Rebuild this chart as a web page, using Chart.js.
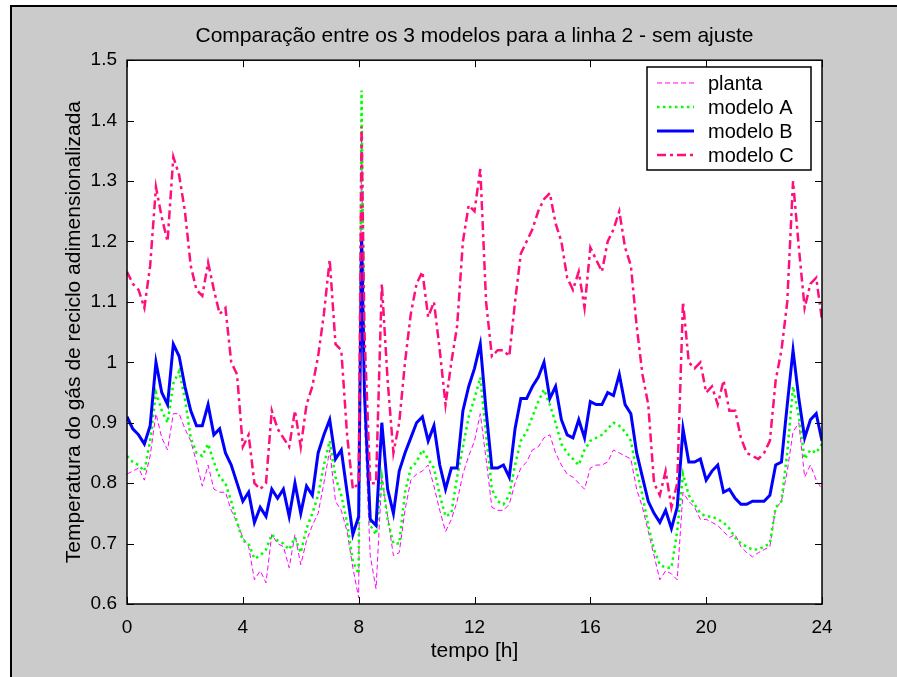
<!DOCTYPE html>
<html>
<head>
<meta charset="utf-8">
<script src="https://cdn.jsdelivr.net/npm/chart.js@4.4.1/dist/chart.umd.min.js"></script>
<style>
  html, body { margin: 0; padding: 0; background: #fff; }
  #fig { position: absolute; left: 10px; top: 5px; width: 887px; height: 672px; background: #cbcbcb;
         border-top: 2px solid #000; border-left: 2px solid #000; box-sizing: border-box; }
  #plot { position: absolute; left: 0; top: 0; width: 897px; height: 677px; }
</style>
</head>
<body>
<div id="fig"></div>
<canvas id="plot" width="897" height="677"></canvas>
<script>
// tempo [h]
var tempo = [
  0, 0.2, 0.4, 0.6, 0.8, 1.0, 1.2, 1.4, 1.6, 1.8,
  2.0, 2.2, 2.4, 2.6, 2.8, 3.0, 3.2, 3.4, 3.6, 3.8,
  4.0, 4.2, 4.4, 4.6, 4.8, 5.0, 5.2, 5.4, 5.6, 5.8,
  6.0, 6.2, 6.4, 6.6, 6.8, 7.0, 7.2, 7.4, 7.6, 7.8,
  8.0, 8.1, 8.2, 8.4, 8.6, 8.8, 9.0, 9.2, 9.4, 9.6, 9.8,
  10.0, 10.2, 10.4, 10.6, 10.8, 11.0, 11.2, 11.4, 11.6, 11.8,
  12.0, 12.2, 12.4, 12.6, 12.8, 13.0, 13.2, 13.4, 13.6, 13.8,
  14.0, 14.2, 14.4, 14.6, 14.8, 15.0, 15.2, 15.4, 15.6, 15.8,
  16.0, 16.2, 16.4, 16.6, 16.8, 17.0, 17.2, 17.4, 17.6, 17.8,
  18.0, 18.2, 18.4, 18.6, 18.8, 19.0, 19.2, 19.4, 19.6, 19.8,
  20.0, 20.2, 20.4, 20.6, 20.8, 21.0, 21.2, 21.4, 21.6, 21.8,
  22.0, 22.2, 22.4, 22.6, 22.8, 23.0, 23.2, 23.4, 23.6, 23.8,
  24.0
];

var planta = [
  0.815, 0.82, 0.825, 0.805, 0.845, 0.915, 0.875, 0.855, 0.915, 0.915,
  0.89, 0.87, 0.835, 0.795, 0.83, 0.79, 0.785, 0.785, 0.755, 0.735,
  0.71, 0.695, 0.64, 0.655, 0.635, 0.715, 0.70, 0.695, 0.66, 0.715,
  0.665, 0.705, 0.73, 0.75, 0.80, 0.855, 0.77, 0.755, 0.72, 0.66,
  0.61, 1.38, 0.90, 0.68, 0.625, 0.81, 0.745, 0.68, 0.685, 0.755, 0.805,
  0.815, 0.82, 0.83, 0.795, 0.755, 0.72, 0.74, 0.77, 0.815, 0.845,
  0.87, 0.915, 0.84, 0.76, 0.755, 0.755, 0.765, 0.80, 0.825, 0.835,
  0.855, 0.86, 0.875, 0.88, 0.85, 0.83, 0.815, 0.81, 0.80, 0.79,
  0.825, 0.83, 0.83, 0.835, 0.855, 0.85, 0.845, 0.84, 0.79, 0.76,
  0.72, 0.68, 0.64, 0.655, 0.65, 0.64, 0.785, 0.77, 0.76, 0.74,
  0.74, 0.735, 0.73, 0.72, 0.71, 0.715, 0.695, 0.685, 0.678, 0.685,
  0.69, 0.695, 0.758, 0.77, 0.82, 0.885, 0.90, 0.81, 0.83, 0.805,
  0.79
];

var modeloA = [
  0.845, 0.835, 0.83, 0.82, 0.87, 0.95, 0.92, 0.90, 0.965, 0.985,
  0.94, 0.875, 0.85, 0.845, 0.865, 0.835, 0.81, 0.80, 0.77, 0.735,
  0.705, 0.70, 0.675, 0.68, 0.69, 0.715, 0.705, 0.70, 0.69, 0.71,
  0.685, 0.725, 0.75, 0.78, 0.83, 0.87, 0.81, 0.78, 0.735, 0.67,
  0.65, 1.45, 0.95, 0.73, 0.715, 0.81, 0.74, 0.70, 0.70, 0.785, 0.825,
  0.835, 0.855, 0.84, 0.825, 0.78, 0.745, 0.75, 0.81, 0.86, 0.91,
  0.94, 0.975, 0.88, 0.79, 0.77, 0.765, 0.78, 0.83, 0.87, 0.885,
  0.91, 0.935, 0.955, 0.93, 0.90, 0.865, 0.85, 0.84, 0.83, 0.855,
  0.87, 0.875, 0.88, 0.89, 0.90, 0.895, 0.885, 0.87, 0.82, 0.78,
  0.73, 0.69, 0.665, 0.66, 0.66, 0.72, 0.815, 0.78, 0.765, 0.75,
  0.745, 0.745, 0.74, 0.735, 0.725, 0.71, 0.70, 0.695, 0.69, 0.69,
  0.695, 0.70, 0.76, 0.77, 0.85, 0.96, 0.91, 0.84, 0.855, 0.85,
  0.865
];

var modeloB = [
  0.91, 0.89, 0.88, 0.865, 0.895, 1.0, 0.95, 0.93, 1.03, 1.01,
  0.96, 0.92, 0.895, 0.895, 0.93, 0.88, 0.89, 0.85, 0.83, 0.80,
  0.77, 0.785, 0.735, 0.76, 0.745, 0.79, 0.775, 0.79, 0.745, 0.80,
  0.75, 0.795, 0.78, 0.85, 0.88, 0.905, 0.84, 0.855, 0.785, 0.715,
  0.745, 1.21, 0.95, 0.74, 0.73, 0.90, 0.79, 0.75, 0.82, 0.85, 0.875,
  0.90, 0.91, 0.87, 0.895, 0.83, 0.79, 0.825, 0.825, 0.92, 0.96,
  0.99, 1.03, 0.92, 0.825, 0.825, 0.83, 0.81, 0.89, 0.94, 0.94,
  0.96, 0.975, 1.0, 0.94, 0.96, 0.905, 0.88, 0.875, 0.905, 0.875,
  0.935, 0.93, 0.93, 0.95, 0.945, 0.98, 0.93, 0.915, 0.85, 0.81,
  0.77, 0.75, 0.735, 0.755, 0.725, 0.76, 0.89, 0.835, 0.835, 0.84,
  0.805, 0.82, 0.83, 0.785, 0.79, 0.775, 0.765, 0.765, 0.77, 0.77,
  0.77, 0.78, 0.83, 0.835, 0.93, 1.02, 0.94, 0.875, 0.905, 0.915,
  0.87
];

var modeloC = [
  1.15, 1.13, 1.12, 1.09, 1.16, 1.29, 1.24, 1.20, 1.34, 1.31,
  1.25, 1.16, 1.12, 1.11, 1.165, 1.12, 1.08, 1.09, 1.00, 0.98,
  0.86, 0.88, 0.80, 0.79, 0.80, 0.92, 0.89, 0.875, 0.86, 0.92,
  0.86, 0.93, 0.96, 1.01, 1.08, 1.17, 1.03, 1.02, 0.88, 0.79,
  0.80, 1.39, 1.05, 0.80, 0.80, 1.13, 0.97, 0.85, 0.90, 1.00, 1.08,
  1.13, 1.15, 1.075, 1.10, 1.02, 0.93, 1.00, 1.06, 1.20, 1.26,
  1.25, 1.32, 1.10, 1.01, 1.02, 1.02, 1.01, 1.10, 1.18, 1.20,
  1.22, 1.25, 1.27, 1.28, 1.23, 1.20, 1.14, 1.12, 1.15, 1.09,
  1.19, 1.17, 1.15, 1.20, 1.22, 1.25, 1.19, 1.16, 1.06, 0.98,
  0.93, 0.80, 0.78, 0.82, 0.76, 0.80, 1.10, 1.00, 0.99, 1.00,
  0.95, 0.96, 0.93, 0.97, 0.92, 0.92, 0.875, 0.85, 0.845, 0.84,
  0.85, 0.87, 0.97, 1.02, 1.10, 1.30, 1.19, 1.09, 1.13, 1.14,
  1.07
];

var xTicks = [0, 4, 8, 12, 16, 20, 24];
var yTicks = [0.6, 0.7, 0.8, 0.9, 1.0, 1.1, 1.2, 1.3, 1.4, 1.5];

var FONT = "'Liberation Sans', Arial, sans-serif";

function pts(ys) {
  return tempo.map(function(t, i) { return { x: t, y: ys[i] }; });
}

var series = [
  { label: 'planta',   data: planta,  color: '#ff00ff', width: 1,   dash: [5, 3],        order: 4 },
  { label: 'modelo A', data: modeloA, color: '#00ff00', width: 2.5, dash: [2.5, 3.5],    order: 3 },
  { label: 'modelo B', data: modeloB, color: '#0000ff', width: 3,   dash: [],            order: 2 },
  { label: 'modelo C', data: modeloC, color: '#ff0f7b', width: 2.5, dash: [9, 4, 3, 4],  order: 1 }
];

// white plot area, box, inward ticks and the boxed legend
var axesDecor = {
  id: 'axesDecor',
  beforeDraw: function(chart) {
    var a = chart.chartArea, c = chart.ctx;
    c.save();
    c.fillStyle = '#fff';
    c.fillRect(a.left, a.top, a.right - a.left, a.bottom - a.top);
    c.restore();
  },
  afterDatasetsDraw: function(chart) {
    var a = chart.chartArea, c = chart.ctx;
    var sx = chart.scales.x, sy = chart.scales.y;
    c.save();
    c.strokeStyle = '#000';
    c.lineWidth = 1;
    c.setLineDash([]);
    c.beginPath();
    xTicks.forEach(function(t) {
      var px = Math.round(sx.getPixelForValue(t)) + 0.5;
      c.moveTo(px, a.bottom); c.lineTo(px, a.bottom - 7);
      c.moveTo(px, a.top); c.lineTo(px, a.top + 7);
    });
    yTicks.forEach(function(v) {
      var py = Math.round(sy.getPixelForValue(v)) + 0.5;
      c.moveTo(a.left, py); c.lineTo(a.left + 7, py);
      c.moveTo(a.right, py); c.lineTo(a.right - 7, py);
    });
    c.stroke();
    c.lineWidth = 1.5;
    c.strokeRect(a.left, a.top, a.right - a.left, a.bottom - a.top);

    // legend
    var bx = 647, by = 67, bw = 164, bh = 103;
    c.fillStyle = '#fff';
    c.fillRect(bx, by, bw, bh);
    c.lineWidth = 1.5;
    c.strokeStyle = '#000';
    c.strokeRect(bx, by, bw, bh);
    c.font = '20px ' + FONT;
    c.textBaseline = 'middle';
    series.forEach(function(s, i) {
      var y = by + 16 + i * 24;
      c.strokeStyle = s.color;
      c.lineWidth = s.width;
      c.setLineDash(s.dash);
      c.beginPath();
      c.moveTo(657, y); c.lineTo(694, y);
      c.stroke();
      c.setLineDash([]);
      c.fillStyle = '#000';
      c.fillText(s.label, 708, y + 1);
    });
    c.restore();
  }
};

new Chart(document.getElementById('plot'), {
  type: 'line',
  data: {
    datasets: series.map(function(s) {
      return {
        label: s.label,
        data: pts(s.data),
        borderColor: s.color,
        borderWidth: s.width,
        borderDash: s.dash,
        pointRadius: 0,
        tension: 0,
        fill: false,
        order: s.order
      };
    })
  },
  options: {
    responsive: false,
    animation: false,
    layout: { padding: { left: 0, right: 75, top: 0, bottom: 0 } },
    plugins: {
      legend: { display: false },
      tooltip: { enabled: false },
      title: {
        display: true,
        fullSize: false,
        text: 'Comparação entre os 3 modelos para a linha 2 - sem ajuste',
        color: '#000',
        font: { family: FONT, size: 21, weight: 'normal', lineHeight: 1.2 },
        padding: { top: 24, bottom: 11 }
      }
    },
    scales: {
      x: {
        type: 'linear',
        min: 0, max: 24,
        grid: { display: false, drawTicks: false },
        border: { display: false },
        ticks: { stepSize: 4, padding: 12, color: '#000', maxRotation: 0,
                 font: { family: FONT, size: 19 } },
        title: { display: true, text: 'tempo [h]', color: '#000',
                 font: { family: FONT, size: 21, lineHeight: 1.2 },
                 padding: { top: 0, bottom: 13 } },
        afterFit: function(s) { s.height = 73; }
      },
      y: {
        min: 0.6, max: 1.5,
        grid: { display: false, drawTicks: false },
        border: { display: false },
        ticks: { stepSize: 0.1, padding: 10, color: '#000',
                 font: { family: FONT, size: 19 },
                 callback: function(v) { return String(Number(v.toFixed(1))); } },
        title: { display: true, text: 'Temperatura do gás de reciclo adimensionalizada', color: '#000',
                 font: { family: FONT, size: 21, lineHeight: 1.2 },
                 padding: { top: 62, bottom: 0 } },
        afterFit: function(s) { s.width = 127; }
      }
    }
  },
  plugins: [axesDecor]
});
</script>
</body>
</html>
